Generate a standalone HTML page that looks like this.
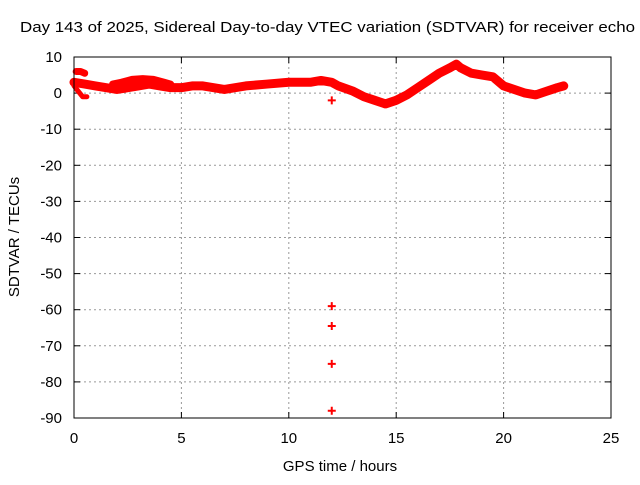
<!DOCTYPE html>
<html><head><meta charset="utf-8"><style>
body{margin:0;background:#fff}
svg text{font-family:"Liberation Sans",sans-serif;font-size:15px;fill:#000}
</style></head><body>
<svg id="chart" width="640" height="480">
<rect width="640" height="480" fill="#fff"/>
<text x="20" y="32" textLength="615" lengthAdjust="spacingAndGlyphs">Day 143 of 2025, Sidereal Day-to-day VTEC variation (SDTVAR) for receiver echo</text>
<text x="340" y="471" text-anchor="middle">GPS time / hours</text>
<text transform="translate(19,237) rotate(-90)" text-anchor="middle">SDTVAR / TECUs</text>
<g id="grid"></g><g id="ticks"></g><g id="data"></g>
<rect x="74" y="57" width="537" height="361" fill="none" stroke="#000" stroke-width="1"/>
</svg>
<script>
const xTicks=[0,5,10,15,20,25];
const yTicks=[10,0,-10,-20,-30,-40,-50,-60,-70,-80,-90];
const mainT=[0,0.5,1,1.5,2,2.5,3,3.5,4,4.5,5,5.5,6,6.5,7,7.5,8,9,10,11,11.5,12,12.3,13,13.5,14,14.5,15,15.5,16,16.5,17,17.5,17.8,18,18.5,19,19.5,20,20.5,21,21.5,22,22.5,22.8];
const mainV=[3,2.5,2,1.5,1,1.5,2,2.5,2,1.5,1.5,2,2,1.5,1,1.5,2,2.5,3,3,3.5,3,2,0.5,-1,-2,-3,-2,-0.5,1.5,3.5,5.5,7,8,7,5.5,5,4.5,2,1,0,-0.5,0.5,1.5,2];
const upperT=[1.8,2.2,2.7,3.2,3.7,4.2,4.5];
const upperV=[2.5,3,3.8,4,3.8,3,2.5];
const blockT=[0.1,0.3,0.5];
const blockV=[6,6,5.5];
const lowT=[0,0.2,0.4,0.6];
const lowV=[2,0.5,-1,-1];
const outT=[12,12,12,12,12];
const outV=[-2,-59,-64.5,-75,-88];
const X=t=>74+t*537/25, Y=v=>57+(10-v)*361/100;
const ns="http://www.w3.org/2000/svg";
function mk(tag,attrs,parent){const e=document.createElementNS(ns,tag);for(const k in attrs)e.setAttribute(k,attrs[k]);document.getElementById(parent).appendChild(e);return e;}
xTicks.forEach(t=>{
 if(t>0&&t<25){const g=mk('line',{x1:X(t),x2:X(t),y1:57,y2:418,stroke:'#999','stroke-dasharray':'2,3'},'grid');
 
 }
 const l=mk('text',{x:X(t),y:443,'text-anchor':'middle'},'ticks');l.textContent=t;
 
 
 mk('line',{x1:X(t),x2:X(t),y1:418,y2:412,stroke:'#000'},'ticks');mk('line',{x1:X(t),x2:X(t),y1:57,y2:63,stroke:'#000'},'ticks');
});
yTicks.forEach(v=>{
 if(v<10&&v>-90){const g=mk('line',{x1:74,x2:611,y1:Y(v),y2:Y(v),stroke:'#999','stroke-dasharray':'2,3'},'grid');
 
 }
 const l=mk('text',{x:62,y:Y(v)+5,'text-anchor':'end'},'ticks');l.textContent=v;
 
 
 mk('line',{x1:74,x2:80,y1:Y(v),y2:Y(v),stroke:'#000'},'ticks');mk('line',{x1:605,x2:611,y1:Y(v),y2:Y(v),stroke:'#000'},'ticks');
});
function band(T,V,w,name){
 const p=mk('polyline',{points:T.map((t,i)=>X(t)+','+Y(V[i])).join(' '),fill:'none',stroke:'#f00','stroke-width':w,'stroke-linejoin':'round','stroke-linecap':'round'},'data');
 
 
}
band(mainT,mainV,9,'sdtvar-main-band');
band(upperT,upperV,7,'sdtvar-upper-band');
band(blockT,blockV,7,'sdtvar-start-band');
band(lowT,lowV,5,'sdtvar-low-band');
outT.forEach((t,i)=>{
 const x=X(t),y=Y(outV[i]);
 const p=mk('path',{d:`M${x-4},${y}H${x+4}M${x},${y-4}V${y+4}`,stroke:'#f00','stroke-width':2},'data');
 
 
});
</script>
</body></html>
